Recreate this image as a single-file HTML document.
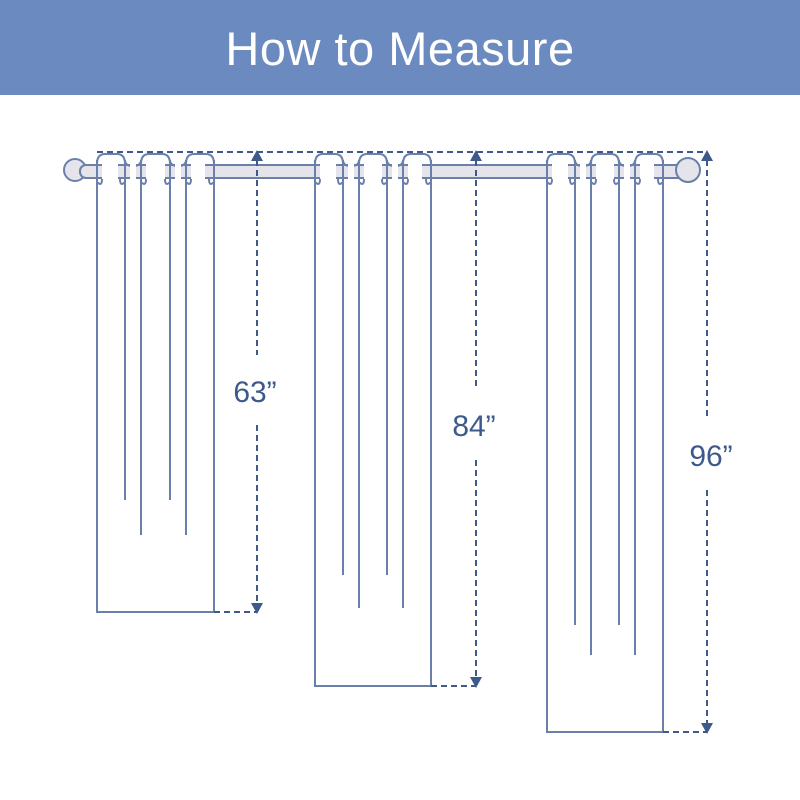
<!DOCTYPE html>
<html><head><meta charset="utf-8"><style>
html,body{margin:0;padding:0;background:#fff;width:800px;height:800px;overflow:hidden}
</style></head><body>
<svg width="800" height="800" viewBox="0 0 800 800" xmlns="http://www.w3.org/2000/svg">
<rect x="0" y="0" width="800" height="95" fill="#6b8bc0"/>
<text x="400" y="65" text-anchor="middle" font-family="Liberation Sans, sans-serif" font-size="47" fill="#fff" letter-spacing="0.5">How to Measure</text>

<g stroke="#6a80aa" stroke-width="2" fill="none">
<polyline points="97,172 97,612 214,612 214,172"/>
<line x1="125" y1="172" x2="125" y2="500"/><line x1="141" y1="172" x2="141" y2="535"/>
<line x1="170" y1="172" x2="170" y2="500"/><line x1="186" y1="172" x2="186" y2="535"/>
<polyline points="315,172 315,686 431,686 431,172"/>
<line x1="343" y1="172" x2="343" y2="575"/><line x1="359" y1="172" x2="359" y2="608"/>
<line x1="387" y1="172" x2="387" y2="575"/><line x1="403" y1="172" x2="403" y2="608"/>
<polyline points="547,172 547,732 663,732 663,172"/>
<line x1="575" y1="172" x2="575" y2="625"/><line x1="591" y1="172" x2="591" y2="655"/>
<line x1="619" y1="172" x2="619" y2="625"/><line x1="635" y1="172" x2="635" y2="655"/>
</g>

<g stroke="#6a80aa" stroke-width="2" fill="#e4e4ea">
<circle cx="75" cy="170" r="11"/>
<rect x="80" y="165" width="610" height="13" rx="6"/>
<circle cx="688" cy="170" r="12"/>
</g>
<g stroke="#6a80aa" stroke-width="2" fill="none">
<path d="M97,164 q0,-10 8,-10 h12 q8,0 8,10 M141,164 q0,-10 8,-10 h13 q8,0 8,10 M186,164 q0,-10 8,-10 h12 q8,0 8,10 M315,164 q0,-10 8,-10 h12 q8,0 8,10 M359,164 q0,-10 8,-10 h12 q8,0 8,10 M403,164 q0,-10 8,-10 h12 q8,0 8,10 M547,164 q0,-10 8,-10 h12 q8,0 8,10 M591,164 q0,-10 8,-10 h12 q8,0 8,10 M635,164 q0,-10 8,-10 h12 q8,0 8,10"/>
<path d="M125,160 q0,6 8,6 q8,0 8,-6 M170,160 q0,6 8,6 q8,0 8,-6 M343,160 q0,6 8,6 q8,0 8,-6 M387,160 q0,6 8,6 q8,0 8,-6 M575,160 q0,6 8,6 q8,0 8,-6 M619,160 q0,6 8,6 q8,0 8,-6"/>
</g>
<g fill="#fff" stroke="none">
<rect x="102" y="164" width="16" height="15"/><rect x="130" y="164" width="6" height="15"/><rect x="146" y="164" width="19" height="15"/><rect x="175" y="164" width="6" height="15"/><rect x="191" y="164" width="14" height="15"/>
<rect x="320" y="164" width="16" height="15"/><rect x="348" y="164" width="6" height="15"/><rect x="364" y="164" width="18" height="15"/><rect x="392" y="164" width="6" height="15"/><rect x="408" y="164" width="14" height="15"/>
<rect x="552" y="164" width="16" height="15"/><rect x="580" y="164" width="6" height="15"/><rect x="596" y="164" width="18" height="15"/><rect x="624" y="164" width="6" height="15"/><rect x="640" y="164" width="14" height="15"/>
</g>
<g stroke="#6a80aa" stroke-width="2" fill="none">
<path d="M97,160 v25 M125,160 v25 M141,160 v25 M170,160 v25 M186,160 v25 M214,160 v25 M315,160 v25 M343,160 v25 M359,160 v25 M387,160 v25 M403,160 v25 M431,160 v25 M547,160 v25 M575,160 v25 M591,160 v25 M619,160 v25 M635,160 v25 M663,160 v25"/>
<path d="M97,182 q5,5 5,-3 M125,182 q-5,5 -5,-3 M141,182 q5,5 5,-3 M170,182 q-5,5 -5,-3 M186,182 q5,5 5,-3 M214,182 q-5,5 -5,-3 M315,182 q5,5 5,-3 M343,182 q-5,5 -5,-3 M359,182 q5,5 5,-3 M387,182 q-5,5 -5,-3 M403,182 q5,5 5,-3 M431,182 q-5,5 -5,-3 M547,182 q5,5 5,-3 M575,182 q-5,5 -5,-3 M591,182 q5,5 5,-3 M619,182 q-5,5 -5,-3 M635,182 q5,5 5,-3 M663,182 q-5,5 -5,-3"/>
</g>

<g stroke="#3d5a8a" stroke-width="2" stroke-dasharray="6,4" fill="none">
<line x1="97" y1="152" x2="707" y2="152"/>
<line x1="257" y1="160" x2="257" y2="355"/><line x1="257" y1="425" x2="257" y2="604"/>
<line x1="214" y1="612" x2="257" y2="612"/>
<line x1="476" y1="160" x2="476" y2="390"/><line x1="476" y1="460" x2="476" y2="678"/>
<line x1="431" y1="686" x2="476" y2="686"/>
<line x1="707" y1="160" x2="707" y2="420"/><line x1="707" y1="490" x2="707" y2="724"/>
<line x1="663" y1="732" x2="707" y2="732"/>
</g>
<g fill="#3d5a8a">
<polygon points="257,150 251,161 263,161"/><polygon points="257,614 251,603 263,603"/>
<polygon points="476,150 470,161 482,161"/><polygon points="476,688 470,677 482,677"/>
<polygon points="707,150 701,161 713,161"/><polygon points="707,734 701,723 713,723"/>
</g>
<g font-family="Liberation Sans, sans-serif" font-size="30" fill="#3d5a8a" text-anchor="middle">
<text x="255" y="402">63”</text>
<text x="474" y="436">84”</text>
<text x="711" y="466">96”</text>
</g>
</svg>
</body></html>
